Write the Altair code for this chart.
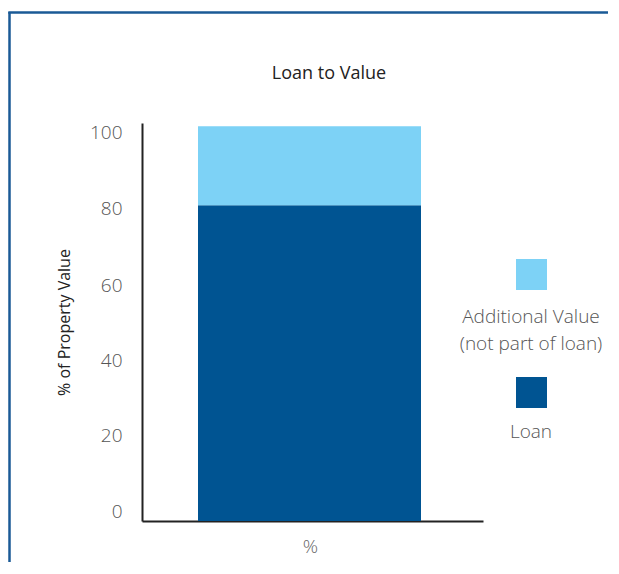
import altair as alt
import pandas as pd

# ---- data ----
chart_title = "Loan to Value"
categories = ["%"]
series = ["Loan", "Additional Value"]
values = [80, 20]
series_colors = ["#005492", "#7dd2f6"]
legend_lines = [["Additional Value", "(not part of loan)"], ["Loan"]]
legend_colors = ["#7dd2f6", "#005492"]
y_ticks = [0, 20, 40, 60, 80, 100]

FONT = "Open Sans"
LIGHT = 300

# small per-label nudges so tick labels sit where the reference draws them
label_nudge = [-10, -7, -3, 1, 3, 6]
label_offset = {
    "condition": [{"test": f"datum.value == {t}", "value": n} for t, n in zip(y_ticks, label_nudge)],
    "value": 0,
}

df = pd.DataFrame({
    "cat": [categories[0]] * len(series),
    "series": series,
    "value": values,
    "rank": list(range(len(series))),
})

base = alt.Chart(df)

bars = base.mark_bar(size=223, xOffset=-3).encode(
    x=alt.X("cat:N", title="%",
            axis=alt.Axis(labels=False, ticks=False, domainColor="#222", domainWidth=2,
                          titleFont=FONT, titleFontSize=19, titleFontWeight=LIGHT,
                          titleColor="#666", titlePadding=16, titleX=168)),
    y=alt.Y("value:Q", stack="zero", title="% of Property Value",
            scale=alt.Scale(domain=[0, 100.8], nice=False),
            axis=alt.Axis(values=y_ticks, ticks=False, grid=False, domainColor="#222",
                          domainWidth=2, labelFont=FONT, labelFontSize=19, labelColor="#555",
                          labelFontWeight=LIGHT, labelPadding=20, labelOffset=label_offset,
                          titleFont=FONT, titleFontSize=16, titleFontWeight="normal",
                          titleColor="#222", titlePadding=17)),
    color=alt.Color("series:N", scale=alt.Scale(domain=series, range=series_colors), legend=None),
    order=alt.Order("rank:Q"),
)

one = pd.DataFrame({"a": [0]})
layers = [bars]

# border lines of the panel (layout only)
border_color = "#1a5a96"
layers.append(alt.Chart(one).mark_rule(color=border_color, strokeWidth=2.5).encode(
    x=alt.value(-132.5), y=alt.value(-111), y2=alt.value(460)))
layers.append(alt.Chart(one).mark_rule(color=border_color, strokeWidth=2.5).encode(
    x=alt.value(-133.7), x2=alt.value(480), y=alt.value(-110.5)))

# chart title
layers.append(alt.Chart(one).mark_text(font=FONT, fontSize=18, fontWeight="normal", color="#222",
                                       align="center", baseline="middle").encode(
    x=alt.value(187), y=alt.value(-49), text=alt.value(chart_title)))

# manual legend: squares with labels centred underneath
sq_y = [151.5, 269.5]
text_y = [[194, 221], [309]]
for lines, col, sy, tys in zip(legend_lines, legend_colors, sq_y, text_y):
    layers.append(alt.Chart(one).mark_square(size=961, opacity=1, color=col).encode(
        x=alt.value(389.5), y=alt.value(sy)))
    for line, ty in zip(lines, tys):
        layers.append(alt.Chart(one).mark_text(font=FONT, fontSize=19, fontWeight=LIGHT,
                                               color="#555", align="center",
                                               baseline="middle").encode(
            x=alt.value(389), y=alt.value(ty), text=alt.value(line)))

chart = alt.layer(*layers).properties(
    width=341,
    height=398,
    autosize=alt.AutoSizeParams(type="none"),
    padding={"left": 134, "top": 115, "right": 125, "bottom": 41},
).configure_view(stroke=None)

chart.save("out.html", embed_options={"renderer": "svg", "actions": False})
